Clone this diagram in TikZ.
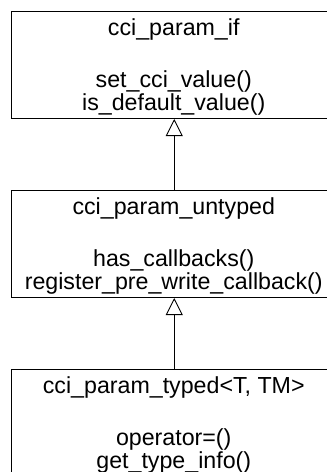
\documentclass[tikz,border=0pt]{standalone}
\usepackage{fontspec}
\setmainfont{Liberation Sans}
\usetikzlibrary{arrows.meta}
\begin{document}
\begin{tikzpicture}[x=1pt,y=-1pt,
  classbox/.style={draw=black, line width=1pt, rectangle, minimum width=326.5pt, minimum height=107pt, anchor=north west, inner sep=0pt},
  label/.style={anchor=base, inner sep=0pt, font=\fontsize{23.2}{24}\selectfont, text=black},
  inherit/.style={draw=black, line width=0.9pt, -{Triangle[open, length=17pt, width=17pt, line width=0.9pt]}}]
\useasboundingbox (0,0) rectangle (327,472);
\clip (0,0) rectangle (327,472);
\node[classbox] (c1) at (10.5,11) {};
\node[classbox] (c2) at (10.5,190) {};
\node[classbox] (c3) at (10.5,369) {};
\node[label] (c1t) at (173.75,35) {cci\_param\_if};
\node[label] (c1a) at (173.75,87) {set\_cci\_value()};
\node[label] (c1b) at (173.75,110) {is\_default\_value()};
\node[label] (c2t) at (173.75,214) {cci\_param\_untyped};
\node[label] (c2a) at (173.75,266) {has\_callbacks()};
\node[label] (c2b) at (173.75,289) {register\_pre\_write\_callback()};
\node[label] (c3t) at (173.75,393) {cci\_param\_typed<T, TM>};
\node[label] (c3a) at (173.75,445) {operator=()};
\node[label] (c3b) at (173.75,468) {get\_type\_info()};
\draw[inherit] (c2.north) -- (c1.south);
\draw[inherit] (c3.north) -- (c2.south);
\end{tikzpicture}
\end{document}
